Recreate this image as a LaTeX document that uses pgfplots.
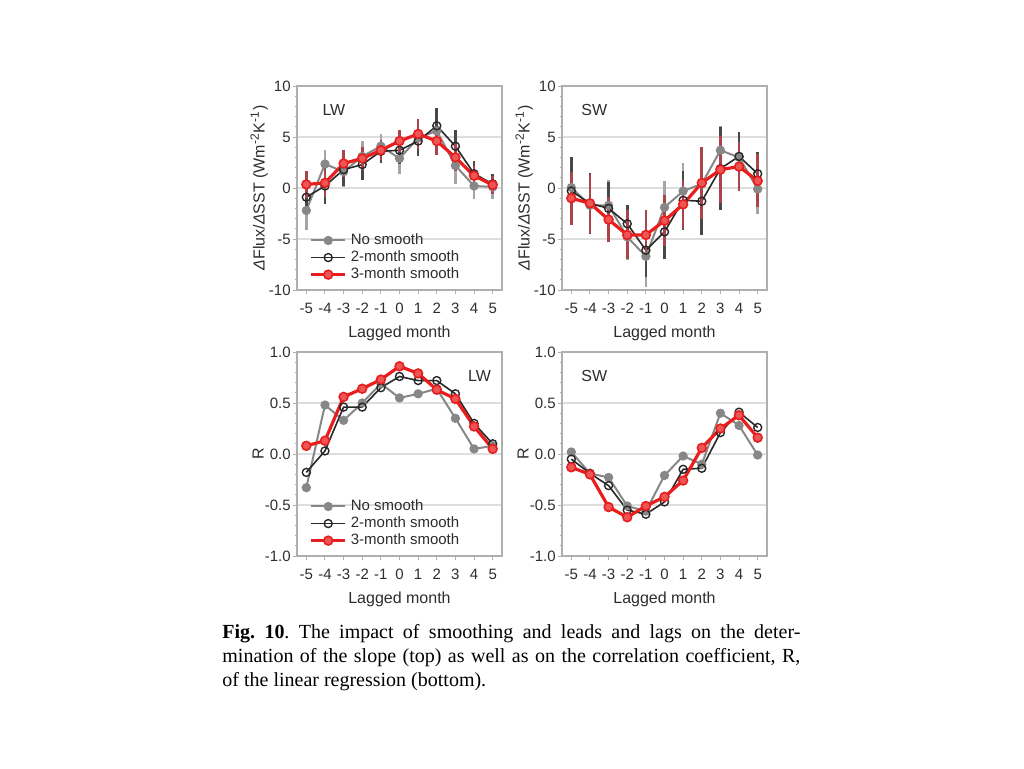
\documentclass[border=0pt]{standalone}
\usepackage{fontspec}
\setmainfont{Liberation Sans}
\newfontfamily\capfont{Liberation Serif}
\usepackage{pgfplots}
\usepackage{pgfplotstable}
\pgfplotsset{compat=1.18}

\definecolor{frame}{RGB}{175,175,175}
\definecolor{gridc}{RGB}{222,222,222}
\definecolor{txt}{RGB}{45,45,45}
\definecolor{nosm}{RGB}{135,135,135}
\definecolor{twosm}{RGB}{40,40,40}
\definecolor{thrsm}{RGB}{232,30,30}
\definecolor{thrbar}{RGB}{150,20,30}

% lag, no smooth, err, 2-month, err, 3-month, err
\pgfplotstableread{
x  g     ge   k     ke   r     re
-5 -2.2  1.9  -0.9  1.6  0.35  1.3
-4 2.35  1.4  0.2   1.8  0.5   1.4
-3 1.6   1.5  1.8   1.6  2.4   1.3
-2 3.1   1.5  2.3   1.5  2.9   1.1
-1 4.1   1.2  3.6   1.1  3.7   1.0
0  2.9   1.5  3.7   1.3  4.6   1.1
1  4.9   1.8  4.6   1.5  5.3   1.5
2  5.6   1.7  6.1   1.7  4.6   1.4
3  2.2   1.8  4.1   1.6  3.0   1.3
4  0.2   1.3  1.4   1.2  1.2   1.0
5  0.1   1.2  0.4   1.0  0.3   0.9
}\lwslope
\pgfplotstableread{
x  g     ge   k     ke   r     re
-5 0.05  3.0  -0.3  3.3  -1.0  2.6
-4 -1.7  2.8  -1.5  3.0  -1.5  2.9
-3 -1.7  2.5  -2.0  2.6  -3.1  2.2
-2 -4.8  2.3  -3.5  1.8  -4.6  2.4
-1 -6.7  3.0  -6.1  2.6  -4.6  2.4
0  -1.9  2.6  -4.3  2.7  -3.2  2.5
1  -0.3  2.8  -1.2  2.9  -1.6  2.4
2  0.4   3.2  -1.3  3.3  0.5   3.5
3  3.7   2.4  1.9   4.1  1.8   3.3
4  3.0   2.5  3.1   2.4  2.1   2.4
5  -0.1  2.4  1.4   2.1  0.7   2.6
}\swslope
\pgfplotstableread{
x  g     k     r
-5 -0.33 -0.18 0.08
-4 0.48  0.03  0.13
-3 0.33  0.46  0.56
-2 0.50  0.46  0.64
-1 0.69  0.65  0.73
0  0.55  0.76  0.86
1  0.59  0.72  0.79
2  0.64  0.72  0.63
3  0.35  0.59  0.54
4  0.05  0.30  0.27
5  0.08  0.10  0.05
}\lwcorr
\pgfplotstableread{
x  g     k     r
-5 0.02  -0.05 -0.13
-4 -0.19 -0.19 -0.20
-3 -0.23 -0.31 -0.52
-2 -0.51 -0.55 -0.62
-1 -0.56 -0.59 -0.51
0  -0.21 -0.47 -0.42
1  -0.02 -0.15 -0.26
2  -0.10 -0.14 0.06
3  0.40  0.21  0.25
4  0.28  0.41  0.38
5  -0.01 0.26  0.16
}\swcorr

\pgfplotsset{
  panel/.style={
    scale only axis, width=102.5pt, height=102pt,
    anchor=south west,
    xmin=-5.5, xmax=5.5,
    xtick={-5,...,5},
    xticklabels={-5,-4,-3,-2,-1,0,1,2,3,4,5},
    xtick pos=lower, ytick pos=left,
    tick align=outside,
    major tick length=2pt, minor tick length=1.2pt,
    minor y tick num=4,
    every tick/.style={frame, line width=0.5pt},
    axis line style={frame, line width=0.6pt},
    ymajorgrids, grid style={gridc, line width=0.6pt},
    tick label style={font=\fontsize{7.5}{9}\selectfont, text=txt},
    label style={font=\fontsize{8}{9.6}\selectfont, text=txt},
    xlabel={Lagged month},
    xticklabel style={yshift=-1pt},
    yticklabel style={inner xsep=1pt},
    xlabel style={yshift=1pt},
    ylabel shift=-4pt,
    legend style={draw=none, fill=none, at={(0.03,0.31)}, anchor=north west,
      font=\fontsize{7.5}{9}\selectfont, text=txt, row sep=-0.8pt,
      nodes={inner ysep=1.2pt}},
    legend cell align=left,
  },
  slope/.style={panel, ymin=-10, ymax=10, ytick={-10,-5,0,5,10},
    yticklabels={-10,-5,0,5,10},
    ylabel={\textit{Δ}Flux/\textit{Δ}SST (Wm\textsuperscript{-2}K\textsuperscript{-1})}},
  corr/.style={panel, ymin=-1, ymax=1, ytick={-1,-0.5,0,0.5,1},
    yticklabels={-1.0,-0.5,0.0,0.5,1.0}, ylabel={R}},
  gs/.style={nosm, line width=1pt, mark=*, mark size=1.8pt,
    mark options={fill=nosm, draw=nosm}},
  ks/.style={twosm, line width=0.8pt, mark=o, mark size=2pt,
    mark options={draw=twosm, line width=0.7pt}},
  rs/.style={thrsm, line width=1.6pt, mark=*, mark size=2.2pt,
    mark options={fill=thrsm!75!white, draw=thrsm, line width=0.8pt}},
  eb/.style={error bars/.cd, y dir=both, y explicit, error mark=none,
    error bar style={line width=1.3pt, #1}},
}

\begin{document}
\begin{tikzpicture}
\path[use as bounding box] (0,0) rectangle (512pt,384pt);

% top left: LW slope
\begin{axis}[slope, at={(148.5pt,239pt)}]
\addplot[gs, eb={nosm!75}] table[x=x, y=g, y error=ge] {\lwslope};
\addplot[ks, eb={twosm!85}] table[x=x, y=k, y error=ke] {\lwslope};
\addplot[rs, eb={thrbar!80}] table[x=x, y=r, y error=re] {\lwslope};
\legend{No smooth, 2-month smooth, 3-month smooth}
\node[anchor=west, font=\fontsize{8}{9.6}\selectfont, text=txt] at (rel axis cs:0.09,0.88) {LW};
\end{axis}

% top right: SW slope
\begin{axis}[slope, at={(281pt,239pt)}]
\addplot[gs, eb={nosm!75}] table[x=x, y=g, y error=ge] {\swslope};
\addplot[ks, eb={twosm!85}] table[x=x, y=k, y error=ke] {\swslope};
\addplot[rs, eb={thrbar!80}] table[x=x, y=r, y error=re] {\swslope};
\node[anchor=west, font=\fontsize{8}{9.6}\selectfont, text=txt] at (rel axis cs:0.06,0.88) {SW};
\end{axis}

% bottom left: LW correlation
\begin{axis}[corr, at={(148.5pt,106pt)}]
\addplot[gs] table[x=x, y=g] {\lwcorr};
\addplot[ks] table[x=x, y=k] {\lwcorr};
\addplot[rs] table[x=x, y=r] {\lwcorr};
\legend{No smooth, 2-month smooth, 3-month smooth}
\node[anchor=west, font=\fontsize{8}{9.6}\selectfont, text=txt] at (rel axis cs:0.80,0.88) {LW};
\end{axis}

% bottom right: SW correlation
\begin{axis}[corr, at={(281pt,106pt)}]
\addplot[gs] table[x=x, y=g] {\swcorr};
\addplot[ks] table[x=x, y=k] {\swcorr};
\addplot[rs] table[x=x, y=r] {\swcorr};
\node[anchor=west, font=\fontsize{8}{9.6}\selectfont, text=txt] at (rel axis cs:0.06,0.88) {SW};
\end{axis}

% caption
\node[anchor=north west, text width=289pt, align=justify, inner sep=0pt,
  font=\capfont\fontsize{10}{12}\selectfont\frenchspacing] at (111pt,72pt)
  {\textbf{Fig. 10}. The impact of smoothing and leads and lags on the deter-\linebreak
   mination of the slope (top) as well as on the correlation coefficient, R,\linebreak
   of the linear regression (bottom).};
\end{tikzpicture}
\end{document}
